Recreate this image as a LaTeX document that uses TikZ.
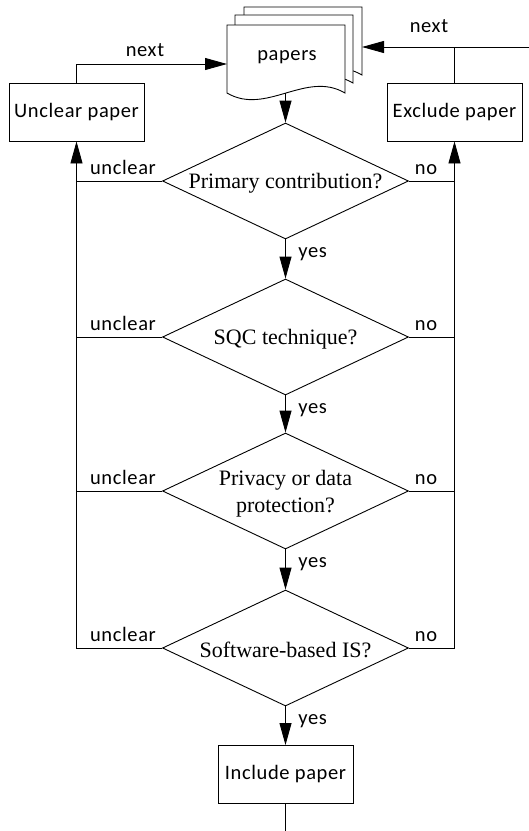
\documentclass[tikz,border=0pt]{standalone}
\usepackage{fontspec}
\setmainfont{Liberation Serif}
\newfontfamily\lblfont[LetterSpace=3]{Carlito}
\usetikzlibrary{shapes.geometric,arrows.meta,calc}
\begin{document}
\begin{tikzpicture}[x=1pt,y=-1pt,
  line width=0.9pt,
  arr/.style={-{Triangle[length=22pt,width=12pt]}},
  box/.style={draw, fill=white, minimum width=135pt, minimum height=58pt, inner sep=0pt,
    font=\lblfont\fontsize{20.5}{24}\selectfont},
  dia/.style={draw, diamond, minimum width=246pt, minimum height=116pt, inner sep=0pt},
  dtext/.style={font=\fontsize{22}{27}\selectfont, align=center, inner sep=0pt},
  lbl/.style={font=\lblfont\fontsize{20.5}{24}\selectfont, inner sep=0pt, anchor=base},
  docshape/.style={draw, fill=white, line width=0.9pt}
]
\useasboundingbox (0,0) rectangle (529,831);

% document stack
\foreach \dx/\dy in {17/-18, 8/-10, 0/0} {
  \path[docshape] ($(227,25)+(\dx,\dy)$) -- ($(345,25)+(\dx,\dy)$) -- ($(345,93)+(\dx,\dy)$)
    .. controls ($(306,70)+(\dx,\dy)$) and ($(266,116)+(\dx,\dy)$) .. ($(227,93)+(\dx,\dy)$) -- cycle;
}
\node[lbl] (papers) at (287,60) {papers};
\coordinate (pbot) at (285.5,93);
\coordinate (pleft) at (227,64);
\coordinate (pright) at (362,47);
\coordinate (redge) at (529,47);

% boxes
\node[box] (unc) at (76.5,112) {Unclear paper};
\node[box] (exc) at (454.5,112) {Exclude paper};
\node[box] (inc) at (285.5,774.5) {Include paper};
\coordinate (bend) at (285.5,831);

% diamonds
\node[dia] (d1) at (285.5,181) {};
\node[dia] (d2) at (285.5,337) {};
\node[dia] (d3) at (285.5,491) {};
\node[dia] (d4) at (285.5,648) {};
\node[dtext] at ($(d1)+(0,2)$) {Primary contribution?};
\node[dtext] at ($(d2)+(0,2)$) {SQC technique?};
\node[dtext] at ($(d3)+(0,3)$) {Privacy or data\\protection?};
\node[dtext] at ($(d4)+(0,2)$) {Software-based IS?};

% main flow
\draw[arr] (pbot) -- (d1.north);
\draw[arr] (d1.south) -- (d2.north);
\draw[arr] (d2.south) -- (d3.north);
\draw[arr] (d3.south) -- (d4.north);
\draw[arr] (d4.south) -- (inc.north);
\draw (inc.south) -- (bend);

% yes labels
\foreach \d in {d1,d2,d3,d4} {
  \node[lbl, anchor=base west] at ($(\d.south)+(12.5,18)$) {yes};
}

% unclear branch
\draw[arr] (d4.west) -- (d4.west -| unc.south) -- (unc.south);
\foreach \d in {d1,d2,d3} {
  \draw (\d.west) -- (\d.west -| unc.south);
}
\foreach \d in {d1,d2,d3,d4} {
  \node[lbl] at ($(\d.west -| unc.south)+(46.5,-7)$) {unclear};
}

% no branch
\draw[arr] (d4.east) -- (d4.east -| exc.south) -- (exc.south);
\foreach \d in {d1,d2,d3} {
  \draw (\d.east) -- (\d.east -| exc.south);
}
\foreach \d in {d1,d2,d3,d4} {
  \node[lbl] at ($(\d.east -| exc.south)+(-28.5,-7)$) {no};
}

% next loops
\draw[arr] (unc.north) |- (pleft);
\node[lbl] at (145,56) {next};
\draw[arr] (redge) -- (pright);
\draw (exc.north) -- (exc.north |- pright);
\node[lbl] at (429,32) {next};
\end{tikzpicture}
\end{document}
